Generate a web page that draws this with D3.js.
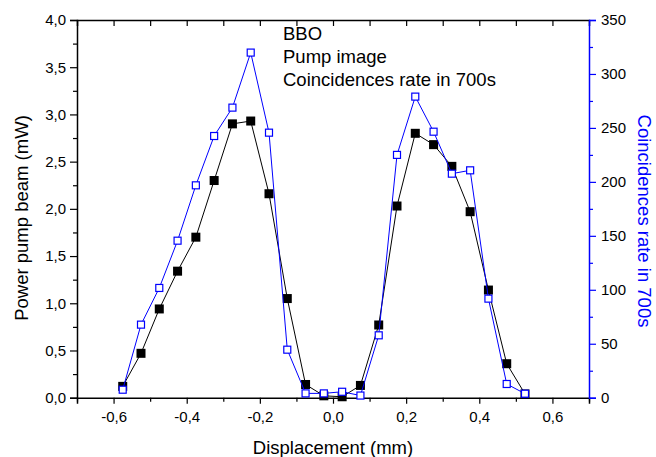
<!DOCTYPE html>
<html><head><meta charset="utf-8">
<script src="https://cdn.jsdelivr.net/npm/d3@7"></script>
<style>body{margin:0;background:#fff}svg{display:block}text{font-family:"Liberation Sans",Arial,sans-serif}</style>
</head><body><svg id="c" width="656" height="457"></svg>
<script>
const displacement = [-0.575,-0.525,-0.475,-0.425,-0.375,-0.325,-0.275,-0.225,-0.175,-0.125,-0.075,-0.025,0.025,0.075,0.125,0.175,0.225,0.275,0.325,0.375,0.425,0.475,0.525];
const powerPump = [0.12,0.47,0.94,1.34,1.70,2.30,2.90,2.93,2.16,1.05,0.14,0.02,0.01,0.13,0.77,2.03,2.80,2.68,2.45,1.97,1.14,0.36,0.04];
const coincidences = [7.4,67.7,101.7,145.5,196.8,242.5,268.8,319.8,245.6,44.5,4,4,5.5,2,57.8,225,279,246.5,207.6,210.7,91.8,12.7,3.7];
const xTicks = [-0.6,-0.4,-0.2,0.0,0.2,0.4,0.6];
const yLeftTicks = [0,0.5,1,1.5,2,2.5,3,3.5,4];
const yRightTicks = [0,50,100,150,200,250,300,350];
const legendLines = ["BBO","Pump image","Coincidences rate in 700s"];

(function(){
const svg = d3.select("#c");
const L=77,R=589,T=20,B=397.7;
const BLUE="#0000ff";
const x = d3.scaleLinear().domain([-0.7,0.7]).range([L,R]);
const yl = d3.scaleLinear().domain([0,4]).range([B,T]);
const yr = d3.scaleLinear().domain([0,350]).range([B,T]);
const comma = f => v => d3.format(f)(v).replace(".",",").replace("−","-");

const gBottom = svg.append("g").attr("transform",`translate(0,${B})`)
  .call(d3.axisBottom(x).tickValues(xTicks).tickFormat(comma(".1f")).tickSize(6).tickPadding(8));
gBottom.append("g").call(d3.axisBottom(x).tickValues(d3.range(-0.7,0.71,0.2)).tickFormat("").tickSize(4)).select(".domain").remove();
const gTop = svg.append("g").attr("transform",`translate(0,${T})`)
  .call(d3.axisTop(x).tickValues(d3.range(-0.6,0.61,0.1)).tickFormat("").tickSize(-6));
const gLeft = svg.append("g").attr("transform",`translate(${L},0)`)
  .call(d3.axisLeft(yl).tickValues(yLeftTicks).tickFormat(comma(".1f")).tickSize(7).tickPadding(4));
gLeft.append("g").call(d3.axisLeft(yl).tickValues(d3.range(0.25,4,0.5)).tickFormat("").tickSize(4)).select(".domain").remove();
const gRight = svg.append("g").attr("transform",`translate(${R},0)`)
  .call(d3.axisRight(yr).tickValues(yRightTicks).tickSize(7).tickPadding(5));
gRight.append("g").call(d3.axisRight(yr).tickValues(d3.range(25,350,50)).tickFormat("").tickSize(4)).select(".domain").remove();

[gBottom,gTop,gLeft].forEach(g=>{g.selectAll(".domain").attr("stroke","#000").attr("stroke-width",1.5);g.selectAll("line").attr("stroke","#000").attr("stroke-width",1.2);});
gRight.selectAll(".domain").attr("stroke",BLUE).attr("stroke-width",1.5);
gRight.selectAll("line").attr("stroke",BLUE).attr("stroke-width",1.2);
svg.selectAll(".tick text").attr("font-size",15).attr("fill","#000").attr("font-family","Liberation Sans, Arial, sans-serif");

svg.append("text").attr("x",333).attr("y",454).attr("text-anchor","middle").attr("font-size",18.5).text("Displacement (mm)");
svg.append("text").attr("transform","translate(28,218) rotate(-90)").attr("text-anchor","middle").attr("font-size",18.5).text("Power pump beam (mW)");
svg.append("text").attr("transform","translate(638,221) rotate(90)").attr("text-anchor","middle").attr("font-size",18.5).attr("fill",BLUE).text("Coincidences rate in 700s");

svg.append("g").selectAll("text").data(legendLines).join("text")
  .attr("x",283).attr("y",(d,i)=>40+i*23).attr("font-size",18.5).text(d=>d);

const blackData = displacement.map((d,i)=>[d,powerPump[i]]);
const blueData = displacement.map((d,i)=>[d,coincidences[i]]);
svg.append("path").datum(blackData).attr("fill","none").attr("stroke","#000").attr("stroke-width",1)
  .attr("d",d3.line().x(d=>x(d[0])).y(d=>yl(d[1])));
svg.append("g").selectAll("rect").data(blackData).join("rect")
  .attr("x",d=>x(d[0])-4.5).attr("y",d=>yl(d[1])-4.5).attr("width",9).attr("height",9).attr("fill","#000");
svg.append("path").datum(blueData).attr("fill","none").attr("stroke",BLUE).attr("stroke-width",1)
  .attr("d",d3.line().x(d=>x(d[0])).y(d=>yr(d[1])));
svg.append("g").selectAll("rect").data(blueData).join("rect")
  .attr("x",d=>x(d[0])-3.5).attr("y",d=>yr(d[1])-3.5).attr("width",7).attr("height",7).attr("fill","#fff").attr("stroke",BLUE).attr("stroke-width",1.2);
})();
</script></body></html>
